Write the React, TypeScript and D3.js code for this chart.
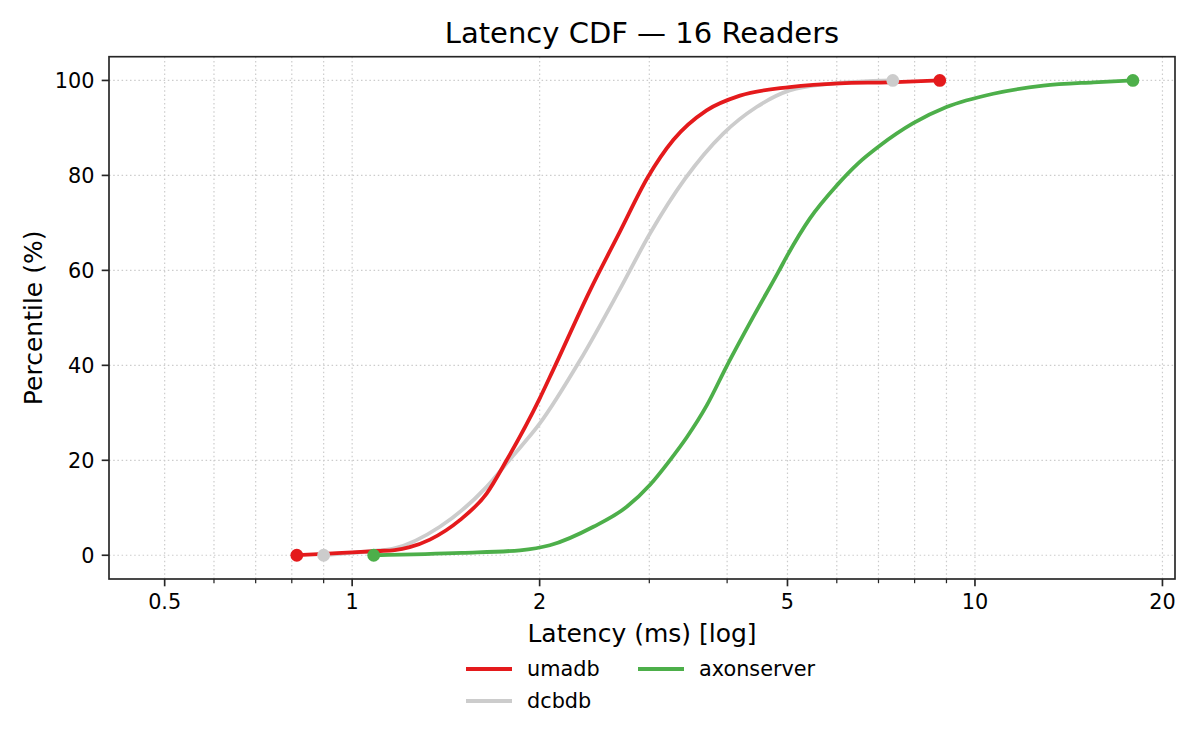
import React from "react";
import * as d3 from "d3";

const seriesNames = ["umadb", "dcbdb", "axonserver"];
const seriesColors = ["#e41a1c", "#cccccc", "#4daf4a"];

const umadbLatency = [0.815, 0.9, 1.0, 1.1, 1.17, 1.237, 1.333, 1.489, 1.644, 1.77, 2.0, 2.102, 2.41, 2.69, 2.98, 3.28, 3.708, 4.195, 5.04, 6.07, 7.3, 8.78];
const umadbPct = [0, 0.3, 0.6, 0.9, 1.1, 1.7, 3.3, 7.4, 13, 20, 33, 39, 55.8, 68.1, 79.5, 87.5, 93.7, 96.8, 98.6, 99.4, 99.6, 100];

const dcbdbLatency = [0.9, 1.0, 1.08, 1.164, 1.383, 1.644, 1.8, 2.0, 2.321, 2.69, 3.006, 3.42, 3.943, 4.46, 5.04, 5.84, 7.38];
const dcbdbPct = [0, 0.5, 0.9, 1.4, 6, 14.4, 20.5, 27.7, 41, 56, 67.7, 79.2, 88.8, 94.4, 97.9, 99.3, 100];

const axonLatency = [1.083, 1.5, 1.86, 2.077, 2.44, 2.76, 3.006, 3.237, 3.444, 3.708, 4.0, 4.405, 4.85, 5.0, 5.43, 6.0, 6.5, 7.04, 7.96, 9.0, 10.7, 12.87, 15.5, 17.93];
const axonPct = [0, 0.5, 1.05, 2.1, 6, 10.2, 14.8, 20, 24.8, 31.5, 40, 50.2, 60, 63.2, 70.9, 77.9, 82.6, 86.3, 91.0, 94.4, 97.2, 98.9, 99.6, 100];

const xMajorTicks = [0.5, 1, 2, 5, 10, 20];
const xMajorLabels = ["0.5", "1", "2", "5", "10", "20"];
const xMinorTicks = [0.6, 0.7, 0.8, 0.9, 3, 4, 6, 7, 8, 9];
const yTicks = [0, 20, 40, 60, 80, 100];

const titleText = "Latency CDF — 16 Readers";
const xLabel = "Latency (ms) [log]";
const yLabel = "Percentile (%)";

const FONT = "DejaVu Sans, sans-serif";

export default function App() {
  const left = 109, right = 1175, top = 56.7, bottom = 579;
  const x = d3.scaleLog().domain([0.407, 20.95]).range([left, right]);
  const y = d3.scaleLinear().domain([-5, 105]).range([bottom, top]);

  const series = [
    { name: seriesNames[0], color: seriesColors[0], lat: umadbLatency, pct: umadbPct },
    { name: seriesNames[1], color: seriesColors[1], lat: dcbdbLatency, pct: dcbdbPct },
    { name: seriesNames[2], color: seriesColors[2], lat: axonLatency, pct: axonPct },
  ];
  const drawOrder = [1, 0, 2];

  const line = d3
    .line<[number, number]>()
    .x((d) => x(d[0]))
    .y((d) => y(d[1]))
    .curve(d3.curveMonotoneX);

  const gridStyle = { stroke: "#cccccc", strokeWidth: 1.2, strokeDasharray: "1.5,2.7" };
  const spine = "#262626";

  const legendCols = [[0, 1], [2]];
  const colX = [466, 638];
  const rowY = [669, 701];

  return (
    <svg
      width={1200}
      height={750}
      style={{ position: "absolute", left: 0, top: 0, background: "#fff" }}
      fontFamily={FONT}
    >
      <rect x={0} y={0} width={1200} height={750} fill="#fff" />
      <clipPath id="plotclip">
        <rect x={left} y={top} width={right - left} height={bottom - top} />
      </clipPath>
      <g>
        {[...xMajorTicks, ...xMinorTicks].map((t) => (
          <line key={"gx" + t} x1={x(t)} x2={x(t)} y1={top} y2={bottom} {...gridStyle} />
        ))}
        {yTicks.map((t) => (
          <line key={"gy" + t} x1={left} x2={right} y1={y(t)} y2={y(t)} {...gridStyle} />
        ))}
      </g>
      <g clipPath="url(#plotclip)">
        {drawOrder.map((i) => {
          const s = series[i];
          const pts = s.lat.map((l, k) => [l, s.pct[k]] as [number, number]);
          return (
            <path key={s.name} d={line(pts) || ""} fill="none" stroke={s.color} strokeWidth={3.8} strokeLinejoin="round" strokeLinecap="butt" />
          );
        })}
        {drawOrder.map((i) => {
          const s = series[i];
          const n = s.lat.length;
          return (
            <g key={s.name + "m"}>
              <circle cx={x(s.lat[0])} cy={y(s.pct[0])} r={6.4} fill={s.color} />
              <circle cx={x(s.lat[n - 1])} cy={y(s.pct[n - 1])} r={6.4} fill={s.color} />
            </g>
          );
        })}
      </g>
      <rect x={left} y={top} width={right - left} height={bottom - top} fill="none" stroke={spine} strokeWidth={1.67} />
      {xMajorTicks.map((t, i) => (
        <g key={"xt" + t}>
          <line x1={x(t)} x2={x(t)} y1={bottom} y2={bottom + 7.3} stroke={spine} strokeWidth={1.67} />
          <text x={x(t)} y={609} textAnchor="middle" fontSize={20.8} fill="#000">
            {xMajorLabels[i]}
          </text>
        </g>
      ))}
      {xMinorTicks.map((t) => (
        <line key={"xm" + t} x1={x(t)} x2={x(t)} y1={bottom} y2={bottom + 4.2} stroke={spine} strokeWidth={1.25} />
      ))}
      {yTicks.map((t) => (
        <g key={"yt" + t}>
          <line x1={left - 7.3} x2={left} y1={y(t)} y2={y(t)} stroke={spine} strokeWidth={1.67} />
          <text x={94.4} y={y(t)} dy="0.36em" textAnchor="end" fontSize={20.8} fill="#000">
            {t}
          </text>
        </g>
      ))}
      <text x={(left + right) / 2} y={43} textAnchor="middle" fontSize={29} fill="#000">
        {titleText}
      </text>
      <text x={(left + right) / 2} y={641.5} textAnchor="middle" fontSize={25} fill="#000">
        {xLabel}
      </text>
      <text
        transform={`translate(42, ${(top + bottom) / 2}) rotate(-90)`}
        textAnchor="middle"
        fontSize={25}
        fill="#000"
      >
        {yLabel}
      </text>
      {legendCols.map((col, ci) =>
        col.map((si, ri) => {
          const s = series[si];
          const lx = colX[ci];
          const ly = rowY[ri];
          return (
            <g key={"lg" + si}>
              <line x1={lx} x2={lx + 46} y1={ly} y2={ly} stroke={s.color} strokeWidth={3.8} />
              <text x={lx + 61} y={ly} dy="0.35em" fontSize={20.8} fill="#000">
                {s.name}
              </text>
            </g>
          );
        })
      )}
    </svg>
  );
}
